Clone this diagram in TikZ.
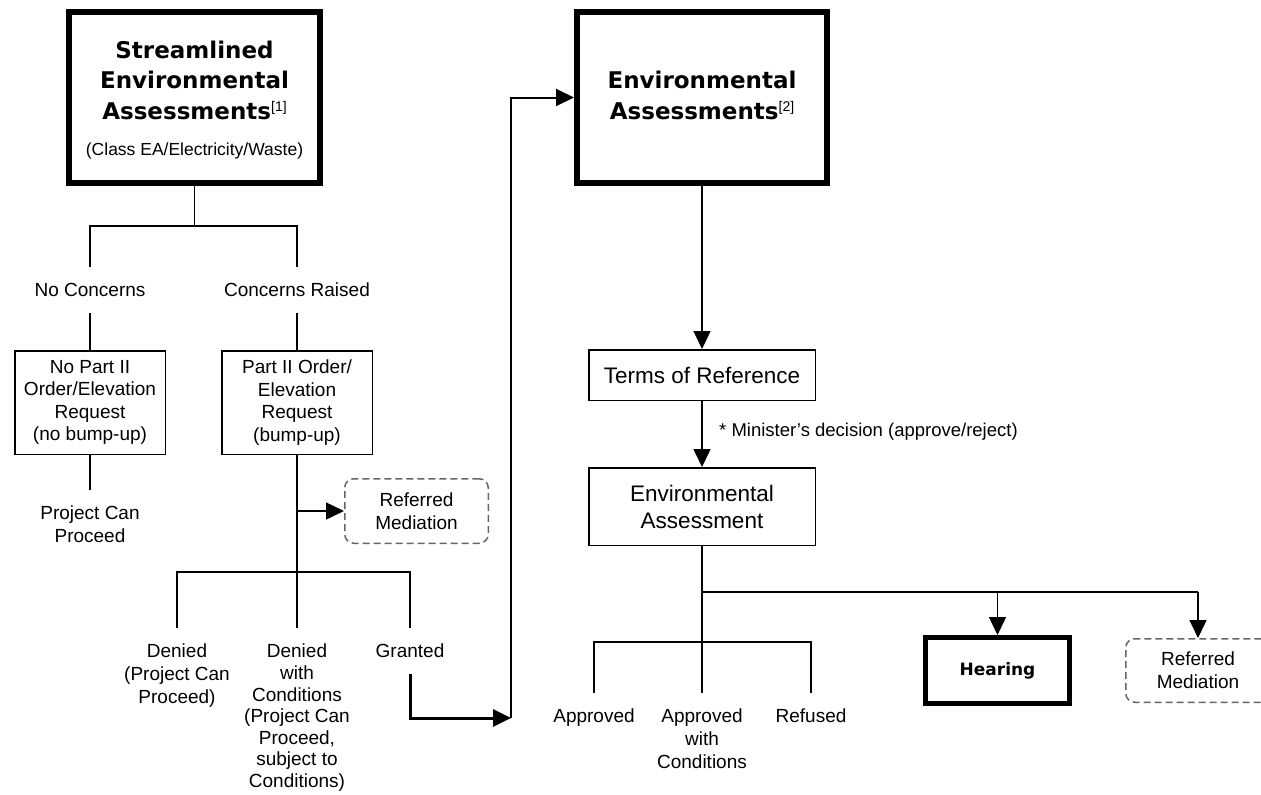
\documentclass[tikz,border=0pt]{standalone}
\usepackage{fontspec}
\setmainfont{Liberation Sans}
\newfontfamily\djv{DejaVu Sans}
\usetikzlibrary{arrows.meta}
\newcommand{\supref}[1]{\raisebox{8pt}{\normalfont\fontsize{14}{14}\selectfont[#1]}}
\tikzset{
  reg/.style={font=\fontsize{19}{22.6}\selectfont},
  big/.style={font=\fontsize{22.5}{27}\selectfont},
  lbl/.style={reg, align=center, anchor=north, inner xsep=2, inner ysep=16},
  thinbox/.style={draw, line width=1.5, align=center, reg, inner sep=0},
  bigbox/.style={draw, line width=6, inner sep=0},
  dbox/.style={draw=black!60, dash pattern=on 7pt off 4pt, rounded corners=9, line width=1.5, align=center, reg, inner sep=0},
  ln/.style={line width=1.5},
  tip/.style={-{Triangle[length=18pt,width=17pt]}},
  arr/.style={line width=1.5, tip},
  ttl/.style={align=center, inner sep=0, font=\djv\bfseries\fontsize{23}{30.5}\selectfont},
}
\begin{document}
\begin{tikzpicture}[x=1pt,y=-1pt]
\clip (0,0) rectangle (1261,795);
\fill[white] (0,0) rectangle (1261,795);

% ---------- left: streamlined EA ----------
\node[bigbox, minimum width=251, minimum height=171] (sea) at (194.5,97.5) {};
\node[ttl] (seat) at (194.5,80) {Streamlined\\Environmental\\Assessments\supref{1}};
\node[reg, inner sep=0, font=\fontsize{17.5}{21}\selectfont] (seas) at (194.5,151) {(Class EA/Electricity/Waste)};

\coordinate (j1) at (194.5,226);
\node[lbl] (nc) at (90,267) {No Concerns};
\node[lbl] (cr) at (297,267) {Concerns Raised};
\draw[ln] (sea.south) -- (j1);
\draw[ln] (nc.north) |- (j1) -| (cr.north);

\node[thinbox, minimum width=150.5, minimum height=103.5] (np) at (90,402.5)
  {No Part II\\Order/Elevation\\Request\\(no bump-up)};
\node[thinbox, minimum width=150.5, minimum height=103.5] (p2) at (297,402.5)
  {Part II Order/\\Elevation\\Request\\(bump-up)};
\draw[ln] (nc.south) -- (np.north);
\draw[ln] (cr.south) -- (p2.north);

\node[lbl] (pcp) at (90,490) {Project Can\\Proceed};
\draw[ln] (np.south) -- (pcp.north);

\node[dbox, minimum width=143.5, minimum height=64.5] (rm1) at (416.5,511) {Referred\\Mediation};
\coordinate (j2) at (297,572);
\draw[ln] (p2.south) -- (j2);
\draw[arr] (p2.south |- rm1.west) -- (rm1.west);

\node[lbl] (dn) at (177,628) {Denied\\(Project Can\\Proceed)};
\node[lbl, font=\fontsize{19}{21.6}\selectfont] (dwc) at (297,628) {Denied\\with\\Conditions\\(Project Can\\Proceed,\\subject to\\Conditions)};
\node[lbl] (gr) at (410,628) {Granted};
\draw[ln] (dn.north) |- (j2) -| (gr.north);
\draw[ln] (j2) -- (dwc.north);

% ---------- right: EA ----------
\node[bigbox, minimum width=250, minimum height=171] (ea) at (702,97.5) {};
\node[ttl] (eat) at (702,95.5) {Environmental\\Assessments\supref{2}};

\coordinate (jg) at (511,718);
\draw[line width=3, tip] (gr.south) |- (jg);
\draw[line width=2, tip] (jg) |- (ea.west);

\node[thinbox, big, minimum width=226.5, minimum height=50.5] (tor) at (702,375) {Terms of Reference};
\node[thinbox, big, minimum width=226.5, minimum height=77.5] (eab) at (702,506.5) {Environmental\\Assessment};
\draw[arr] (ea.south) -- (tor.north);
\draw[arr] (tor.south) -- (eab.north);
\node[reg, font=\fontsize{18.5}{22}\selectfont, anchor=west, inner sep=0] (md) at (719,432) {* Minister’s decision (approve/reject)};

\node[bigbox, line width=5, minimum width=144, minimum height=66, font=\djv\bfseries\fontsize{17}{20}\selectfont] (hr) at (997.5,670.5) {Hearing};
\node[dbox, minimum width=144.5, minimum height=63.5] (rm2) at (1198,670.5) {Referred\\Mediation};

\coordinate (j3) at (702,592);
\coordinate (j4) at (702,642);
\draw[line width=2.5] (eab.south) -- (j3);
\draw[line width=2] (j3) -- (rm2.north |- j3);
\draw[arr] (hr.north |- j3) -- (hr.north);
\draw[arr] (rm2.north |- j3) -- (rm2.north);

\node[lbl] (ap) at (594,693) {Approved};
\node[lbl] (apc) at (702,693) {Approved\\with\\Conditions};
\node[lbl] (rf) at (811,693) {Refused};
\draw[ln] (j3) -- (j4);
\draw[ln] (ap.north) |- (j4) -| (rf.north);
\draw[ln] (j4) -- (apc.north);
\end{tikzpicture}
\end{document}
